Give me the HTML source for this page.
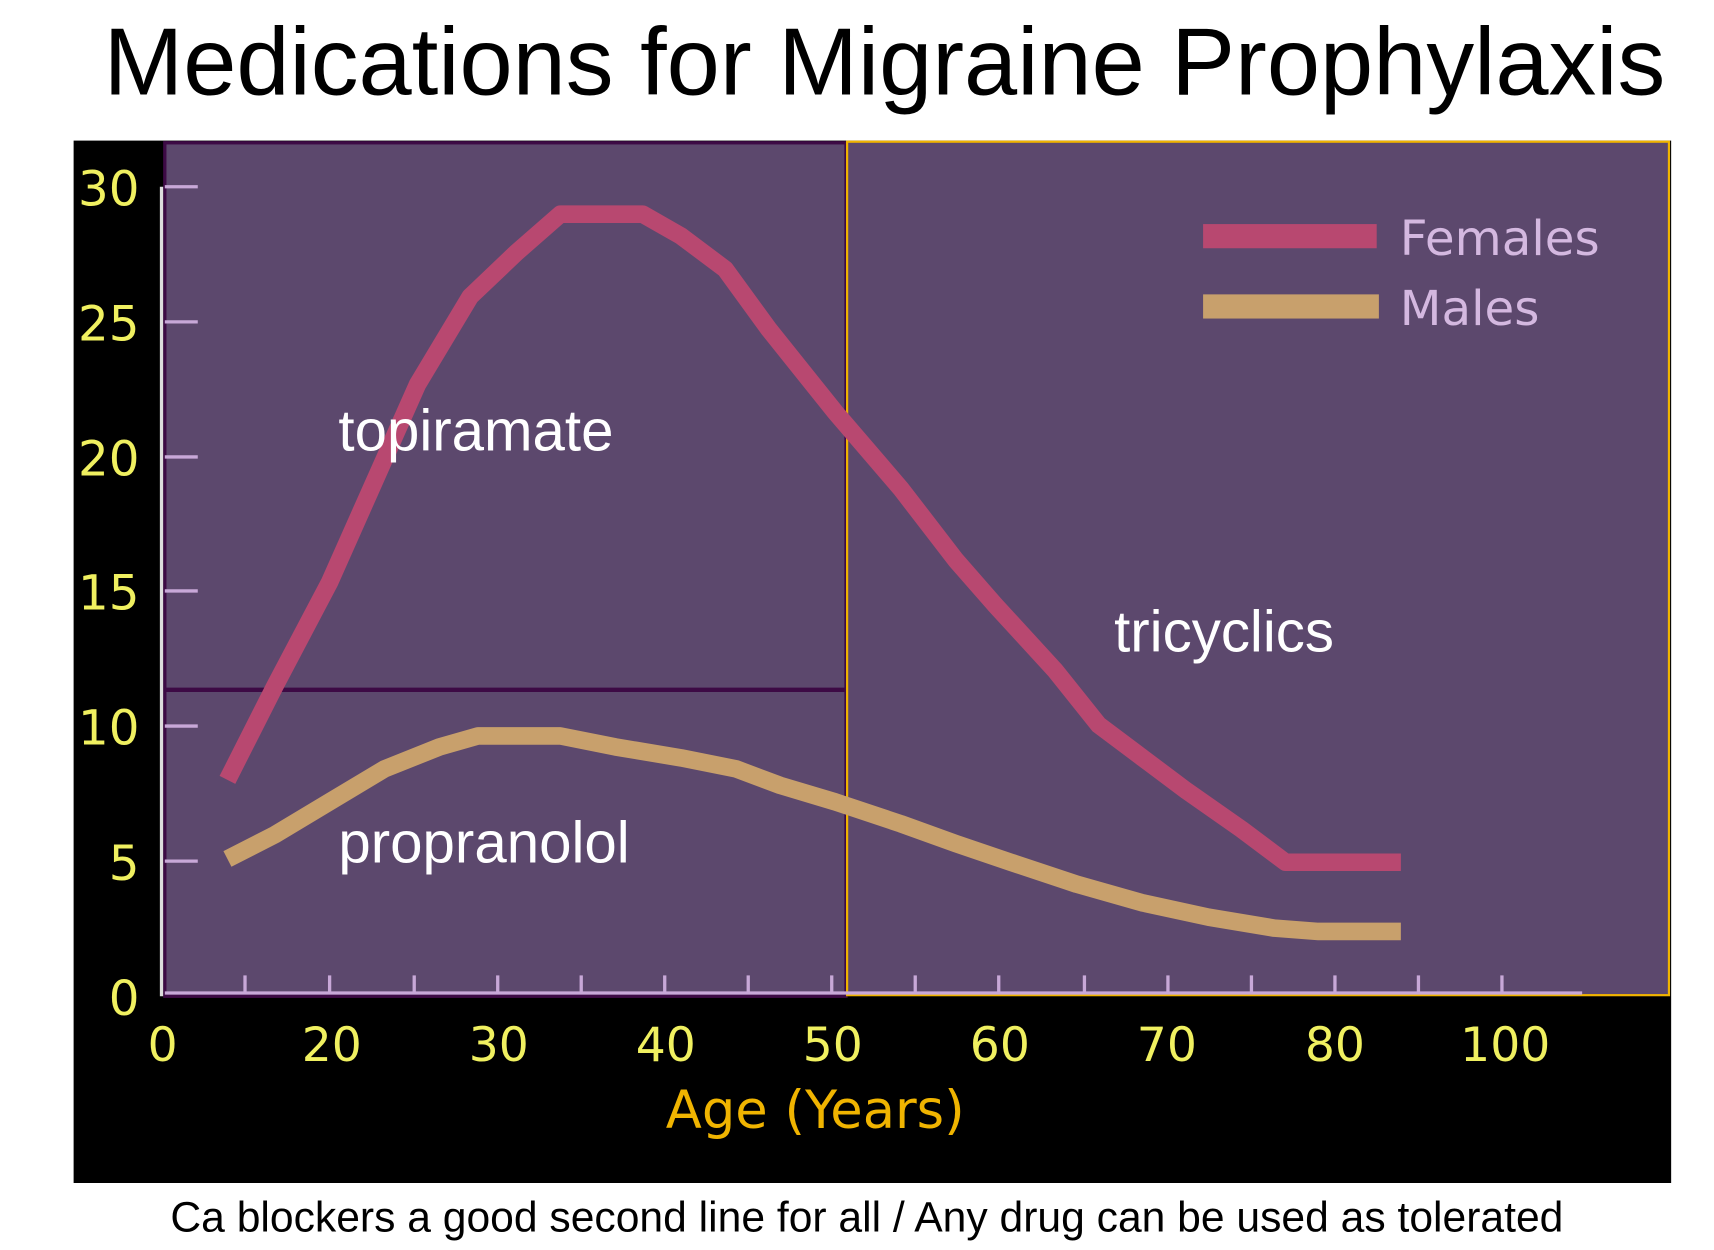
<!DOCTYPE html>
<html><head><meta charset="utf-8"><style>
html,body{margin:0;padding:0;background:#fff;width:1714px;height:1250px;overflow:hidden}
svg{display:block}
</style></head><body>
<svg width="1714" height="1250" viewBox="0 0 1560 1138" preserveAspectRatio="none" xmlns="http://www.w3.org/2000/svg">
<rect width="1560" height="1138" fill="#fff"/>
<text x="805" y="86" text-anchor="middle" font-family="Liberation Sans, sans-serif" font-size="87" fill="#000">Medications for Migraine Prophylaxis</text>
<rect x="67" y="128" width="1454" height="949" fill="#000"/>
<rect x="150" y="130" width="620" height="777" fill="#5c486d" stroke="#3d0a45" stroke-width="3"/>
<line x1="150" y1="628" x2="770" y2="628" stroke="#3d0a45" stroke-width="4"/>
<rect x="771" y="129" width="748" height="777" fill="#5c486d" stroke="#f0b400" stroke-width="2"/>
<line x1="147" y1="170" x2="147" y2="907" stroke="#ddd" stroke-width="3"/>
<line x1="150" y1="904" x2="1440" y2="904" stroke="#c8a8d8" stroke-width="3"/>
<g stroke="#c8a8d8" stroke-width="3">
<line x1="150" y1="170" x2="180" y2="170"/><line x1="150" y1="293" x2="180" y2="293"/><line x1="150" y1="416" x2="180" y2="416"/><line x1="150" y1="538" x2="180" y2="538"/><line x1="150" y1="661" x2="180" y2="661"/><line x1="150" y1="784" x2="180" y2="784"/>
<line x1="223" y1="888" x2="223" y2="904"/><line x1="300" y1="888" x2="300" y2="904"/><line x1="377" y1="888" x2="377" y2="904"/><line x1="453" y1="888" x2="453" y2="904"/><line x1="529" y1="888" x2="529" y2="904"/><line x1="605" y1="888" x2="605" y2="904"/><line x1="681" y1="888" x2="681" y2="904"/><line x1="757" y1="888" x2="757" y2="904"/><line x1="833" y1="888" x2="833" y2="904"/><line x1="909" y1="888" x2="909" y2="904"/><line x1="987" y1="888" x2="987" y2="904"/><line x1="1063" y1="888" x2="1063" y2="904"/><line x1="1139" y1="888" x2="1139" y2="904"/><line x1="1215" y1="888" x2="1215" y2="904"/><line x1="1291" y1="888" x2="1291" y2="904"/><line x1="1367" y1="888" x2="1367" y2="904"/>
</g>
<g font-family="DejaVu Sans, sans-serif" font-size="44" fill="#f0f060" text-anchor="end">
<text x="127" y="187">30</text><text x="127" y="310">25</text><text x="127" y="433">20</text><text x="127" y="555">15</text><text x="127" y="678">10</text><text x="127" y="801">5</text><text x="127" y="924">0</text>
</g>
<g font-family="DejaVu Sans, sans-serif" font-size="43" fill="#f0f060" text-anchor="middle">
<text x="148" y="966">0</text><text x="302" y="966">20</text><text x="454" y="966">30</text><text x="606" y="966">40</text><text x="758" y="966">50</text><text x="910" y="966">60</text><text x="1062" y="966">70</text><text x="1215" y="966">80</text><text x="1370" y="966">100</text>
</g>
<text x="742" y="1027" text-anchor="middle" font-family="DejaVu Sans, sans-serif" font-size="48" fill="#f0b400">Age (Years)</text>
<polyline fill="none" stroke="#b84870" stroke-width="16" stroke-linejoin="round" points="207,710 250,625 300,530 340,440 380,350 428,270 470,230 510,195 585,195 620,215 660,245 700,300 760,375 820,445 870,510 905,550 960,610 1000,660 1040,690 1080,720 1130,755 1170,785 1275,785"/>
<polyline fill="none" stroke="#c8a06c" stroke-width="16" stroke-linejoin="round" points="207,782 250,760 300,730 350,700 400,680 435,670 510,670 560,680 620,690 670,700 710,715 760,730 820,750 870,768 920,785 980,805 1040,822 1100,835 1160,845 1200,848 1275,848"/>
<rect x="1095" y="204" width="158" height="22" fill="#b84870"/>
<rect x="1095" y="268" width="160" height="22" fill="#c8a06c"/>
<g font-family="DejaVu Sans, sans-serif" font-size="44" fill="#d4b8e0">
<text x="1274" y="232">Females</text><text x="1274" y="296">Males</text>
</g>
<g font-family="Liberation Sans, sans-serif" font-size="53" fill="#fff">
<text x="308" y="410">topiramate</text><text x="308" y="785">propranolol</text><text x="1014" y="593">tricyclics</text>
</g>
<text x="789" y="1121" text-anchor="middle" font-family="Liberation Sans, sans-serif" font-size="38.8" fill="#000">Ca blockers a good second line for all / Any drug can be used as tolerated</text>
</svg>
</body></html>
